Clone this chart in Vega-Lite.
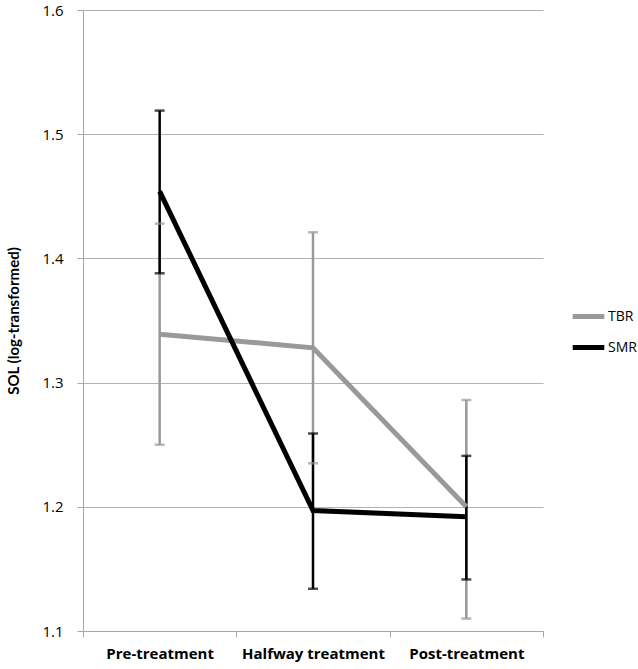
{
  "$schema": "https://vega.github.io/schema/vega-lite/v6.json",
  "autosize": "none",
  "width": 460,
  "height": 621,
  "padding": {"left": 83, "top": 10, "right": 95, "bottom": 38},
  "background": "white",
  "config": {
    "view": {"stroke": null},
    "font": "Open Sans",
    "axis": {"labelFont": "Open Sans", "titleFont": "Lato"},
    "legend": {"labelFont": "Open Sans"}
  },
  "data": {
    "values": [
      {"phase": "Pre-treatment", "group": "TBR", "mean": 1.339, "lo": 1.250, "hi": 1.428},
      {"phase": "Halfway treatment", "group": "TBR", "mean": 1.328, "lo": 1.235, "hi": 1.421},
      {"phase": "Post-treatment", "group": "TBR", "mean": 1.200, "lo": 1.110, "hi": 1.286},
      {"phase": "Pre-treatment", "group": "SMR", "mean": 1.454, "lo": 1.388, "hi": 1.519},
      {"phase": "Halfway treatment", "group": "SMR", "mean": 1.197, "lo": 1.134, "hi": 1.259},
      {"phase": "Post-treatment", "group": "SMR", "mean": 1.192, "lo": 1.1415, "hi": 1.241}
    ]
  },
  "encoding": {
    "x": {
      "field": "phase",
      "type": "nominal",
      "sort": ["Pre-treatment", "Halfway treatment", "Post-treatment"],
      "scale": {"type": "band", "paddingInner": 0, "paddingOuter": 0},
      "axis": {
        "title": null,
        "labelAngle": 0,
        "labelFontSize": 15,
        "labelFontWeight": "bold",
        "labelColor": "#000000",
        "labelPadding": 9,
        "domainColor": "#a6a6a6",
        "tickColor": "#a6a6a6",
        "tickSize": 6,
        "tickBand": "extent",
        "grid": false
      }
    },
    "color": {
      "field": "group",
      "type": "nominal",
      "scale": {"domain": ["TBR", "SMR"], "range": ["#999999", "#000000"]},
      "legend": {
        "title": null,
        "orient": "none",
        "legendX": 487,
        "legendY": 288,
        "symbolType": "stroke",
        "symbolSize": 1000,
        "symbolStrokeWidth": 5,
        "symbolOpacity": 1,
        "labelFontSize": 14,
        "labelColor": "#000000",
        "labelOffset": 1,
        "rowPadding": 2
      }
    }
  },
  "layer": [
    {
      "mark": {"type": "rule", "strokeWidth": 2.5},
      "encoding": {
        "y": {
          "field": "lo",
          "type": "quantitative",
          "scale": {"domain": [1.1, 1.6], "nice": false, "zero": false},
          "axis": {
            "title": "SOL (log-transformed)",
            "titleFontSize": 15,
            "titleFontWeight": "bold",
            "titleColor": "#000000",
            "titlePadding": 20,
            "values": [1.1, 1.2, 1.3, 1.4, 1.5, 1.6],
            "format": ".1f",
            "labelFontSize": 15,
            "labelColor": "#000000",
            "labelPadding": 14,
            "domainColor": "#a6a6a6",
            "tickColor": "#a6a6a6",
            "tickSize": 6,
            "gridColor": "#b3b3b3",
            "gridWidth": 1.2
          }
        },
        "y2": {"field": "hi"}
      }
    },
    {
      "mark": {"type": "tick", "thickness": 2.5, "size": 10},
      "encoding": {"y": {"field": "lo", "type": "quantitative"}}
    },
    {
      "mark": {"type": "tick", "thickness": 2.5, "size": 10},
      "encoding": {"y": {"field": "hi", "type": "quantitative"}}
    },
    {
      "mark": {"type": "line", "strokeWidth": 5},
      "encoding": {
        "y": {"field": "mean", "type": "quantitative"}
      }
    }
  ]
}
